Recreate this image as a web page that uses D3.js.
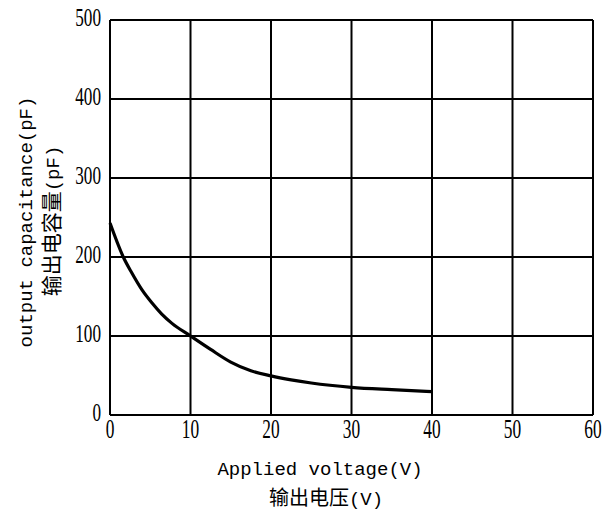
<!DOCTYPE html>
<html>
<head>
<meta charset="utf-8">
<script src="https://cdn.jsdelivr.net/npm/d3@7"></script>
<style>
body { margin: 0; background: #fff; }
</style>
</head>
<body>
<div id="chart"></div>
<script>
// values
var voltage = [0, 1.65, 2.7, 4, 5.2, 6.4, 7.7, 10, 12.5, 15, 17.5, 20, 22.5, 25, 30, 35, 40];
var capacitance = [243, 200, 180, 158, 142, 128, 116, 100, 83, 67, 56, 49.5, 44.5, 40.5, 35, 32, 29.5];
var xTicks = [0, 10, 20, 30, 40, 50, 60];
var yTicks = [0, 100, 200, 300, 400, 500];

var svgWidth = 606;
var svgHeight = 511;
var margin = { top: 20, right: 13, bottom: 96, left: 110 };
var width = svgWidth - margin.left - margin.right;
var height = svgHeight - margin.top - margin.bottom;

var serif = "'Liberation Serif', 'Times New Roman', 'DejaVu Serif', serif";
var mono = "'Liberation Mono', 'DejaVu Sans Mono', monospace";
var cjk = "'Noto Sans CJK SC', sans-serif";

var svg = d3.select("#chart")
    .append("svg")
    .attr("width", svgWidth)
    .attr("height", svgHeight);

var chartGroup = svg.append("g")
    .attr("transform", `translate(${margin.left}, ${margin.top})`);

var x = d3.scaleLinear().domain([0, 60]).range([0, width]);
var y = d3.scaleLinear().domain([0, 500]).range([height, 0]);

// grid lines
chartGroup.selectAll(".vgrid")
    .data(xTicks)
    .enter()
    .append("line")
    .attr("x1", d => x(d)).attr("x2", d => x(d))
    .attr("y1", 0).attr("y2", height)
    .attr("stroke", "#000").attr("stroke-width", 2);

chartGroup.selectAll(".hgrid")
    .data(yTicks)
    .enter()
    .append("line")
    .attr("x1", 0).attr("x2", width)
    .attr("y1", d => y(d)).attr("y2", d => y(d))
    .attr("stroke", "#000").attr("stroke-width", 2);

// tick labels (condensed serif)
chartGroup.selectAll(".xlab")
    .data(xTicks)
    .enter()
    .append("text")
    .attr("transform", d => `translate(${x(d)}, ${height + 23}) scale(0.62, 1)`)
    .attr("text-anchor", "middle")
    .style("font-family", serif)
    .style("font-size", "28px")
    .text(d => d);

chartGroup.selectAll(".ylab")
    .data(yTicks)
    .enter()
    .append("text")
    .attr("transform", d => `translate(-9, ${y(d) + 6}) scale(0.66, 1)`)
    .attr("text-anchor", "end")
    .style("font-family", serif)
    .style("font-size", "26px")
    .text(d => d);

// curve
var line = d3.line()
    .x((d, i) => x(voltage[i]))
    .y(d => y(d))
    .curve(d3.curveMonotoneX);

chartGroup.append("path")
    .datum(capacitance)
    .attr("d", line)
    .attr("fill", "none")
    .attr("stroke", "#000")
    .attr("stroke-width", 3.2);

// x labels
svg.append("text")
    .attr("x", 320).attr("y", 475)
    .attr("text-anchor", "middle")
    .style("font-family", mono)
    .style("font-size", "19px")
    .text("Applied voltage(V)");

var xcn = svg.append("text")
    .attr("x", 326).attr("y", 505)
    .attr("text-anchor", "middle")
    .style("font-size", "20px");
xcn.append("tspan").style("font-family", cjk).text("输出电压");
xcn.append("tspan").style("font-family", mono).style("font-size", "19px").text("(V)");

// y labels
svg.append("text")
    .attr("transform", "translate(32, 222) rotate(-90)")
    .attr("text-anchor", "middle")
    .style("font-family", mono)
    .style("font-size", "19px")
    .text("output capacitance(pF)");

var ycn = svg.append("text")
    .attr("transform", "translate(59, 221) rotate(-90)")
    .attr("text-anchor", "middle")
    .style("font-size", "21px");
ycn.append("tspan").style("font-family", cjk).text("输出电容量");
ycn.append("tspan").style("font-family", mono).style("font-size", "19px").text("(pF)");
</script>
</body>
</html>
